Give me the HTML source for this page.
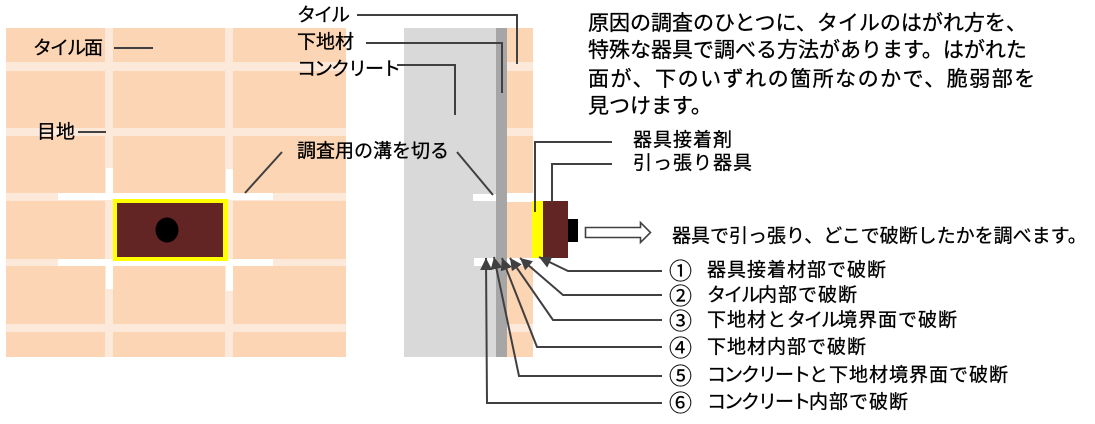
<!DOCTYPE html>
<html><head><meta charset="utf-8">
<style>
html,body{margin:0;padding:0;background:#fff;}
body{width:1095px;height:424px;position:relative;overflow:hidden;font-family:"Liberation Sans","Noto Sans CJK JP",sans-serif;color:#000;}
.t{position:absolute;white-space:nowrap;font-size:19px;line-height:24px;height:24px;-webkit-text-stroke:0.3px #000;}
.p{position:absolute;white-space:nowrap;font-size:21px;line-height:28px;height:28px;left:588px;-webkit-text-stroke:0.3px #000;}
.k{letter-spacing:-2px;}
.w{letter-spacing:1px;}
.n{position:absolute;white-space:nowrap;font-size:23px;line-height:24px;height:24px;left:669px;-webkit-text-stroke:0.2px #000;}
svg{position:absolute;left:0;top:0;}
</style></head><body>
<svg width="1095" height="424" viewBox="0 0 1095 424">
<defs>
<marker id="ah" markerUnits="userSpaceOnUse" markerWidth="13" markerHeight="12" refX="12" refY="6" orient="auto">
<path d="M0,0 L12,6 L0,12 z" fill="#404040"/>
</marker>
</defs>
<!-- left tile face -->
<rect x="6" y="28" width="340" height="329" fill="#fcd5b4"/>
<g fill="#fde9d9">
<rect x="105" y="28" width="8" height="329"/>
<rect x="225" y="28" width="8" height="329"/>
<rect x="6" y="62" width="340" height="9"/>
<rect x="6" y="128" width="340" height="8"/>
<rect x="6" y="193" width="340" height="8"/>
<rect x="6" y="259" width="340" height="7"/>
<rect x="6" y="324" width="340" height="8"/>
</g>
<g fill="#fff">
<rect x="58" y="193" width="215" height="7"/>
<rect x="58" y="259" width="215" height="7"/>
<rect x="106" y="168" width="7" height="32"/>
<rect x="226" y="169" width="7" height="31"/>
<rect x="106" y="259" width="7" height="30"/>
<rect x="226" y="259" width="7" height="32"/>
</g>
<rect x="113" y="199" width="115" height="62" fill="#ffff00"/>
<rect x="117" y="203" width="106" height="54" fill="#632523"/>
<ellipse cx="167" cy="230" rx="11.5" ry="12.5" fill="#000"/>

<!-- cross section -->
<rect x="404" y="28" width="92" height="329" fill="#d9d9d9"/>
<rect x="496" y="28" width="11" height="329" fill="#a6a6a6"/>
<rect x="507" y="28" width="26" height="329" fill="#fcd5b4"/>
<g fill="#fde9d9">
<rect x="507" y="62" width="26" height="9"/>
<rect x="507" y="128" width="26" height="8"/>
<rect x="507" y="324" width="26" height="8"/>
</g>
<g fill="#fff">
<rect x="507" y="193" width="26" height="9"/>
<rect x="507" y="258" width="26" height="8"/>
<rect x="473" y="194" width="23" height="7"/>
<rect x="474" y="258" width="22" height="8"/>
</g>
<rect x="532" y="201" width="11" height="57" fill="#ffff00"/>
<rect x="543" y="201" width="25" height="57" fill="#632523"/>
<rect x="568" y="219" width="10" height="23" fill="#000"/>
<!-- outline arrow -->
<path d="M585.5,227.5 L640.5,227.5 L640.5,222.5 L650.5,232.5 L640.5,242.5 L640.5,237.5 L585.5,237.5 Z" fill="#fff" stroke="#404040" stroke-width="1.6"/>

<!-- leader lines -->
<g fill="none" stroke="#404040" stroke-width="2">
<polyline points="357,15 517,15 517,64"/>
<polyline points="366,43 502,43 502,93"/>
<polyline points="397,65 455,65 455,115"/>
<line x1="457" y1="152" x2="493" y2="195"/>
<line x1="282" y1="152" x2="245" y2="193"/>
<line x1="114" y1="48" x2="153" y2="48"/>
<line x1="78" y1="132" x2="106" y2="132"/>
<polyline points="612,142 535,142 535,212"/>
<polyline points="612,164 552,164 552,202"/>
<polyline points="662,271 568,271 539,257" marker-end="url(#ah)"/>
<polyline points="662,295 563,295 520,258" marker-end="url(#ah)"/>
<polyline points="662,320 553,320 510,258" marker-end="url(#ah)"/>
<polyline points="662,347 537,347 502,258" marker-end="url(#ah)"/>
<polyline points="662,376 519,376 494,257" marker-end="url(#ah)"/>
<polyline points="662,403 487,403 486,258" marker-end="url(#ah)"/>
</g>
</svg>

<div class="t" style="left:33px;top:37px;"><span class="k">タイル</span>面</div>
<div class="t" style="left:37px;top:121px;">目地</div>
<div class="t" style="left:297px;top:4px;"><span class="k">タイル</span></div>
<div class="t" style="left:297px;top:31px;">下地材</div>
<div class="t" style="left:297px;top:58px;"><span class="k">コンクリート</span></div>
<div class="t" style="left:297px;top:140px;">調査用の溝を切る</div>
<div class="t w" style="left:633px;top:129px;">器具接着剤</div>
<div class="t w" style="left:633px;top:152px;">引っ張り器具</div>
<div class="t" style="left:672px;top:225px;">器具で引っ張り、どこで破断したかを調べます。</div>

<div class="n" style="top:259px;">①</div><div class="t w" style="left:707px;top:259px;">器具接着材部で破断</div>
<div class="n" style="top:284px;">②</div><div class="t" style="left:707px;top:284px;"><span class="k">タイル</span><span class="w">内部で破断</span></div>
<div class="n" style="top:309px;">③</div><div class="t" style="left:707px;top:309px;"><span class="w">下地材と</span><span class="k">タイル</span><span class="w">境界面で破断</span></div>
<div class="n" style="top:336px;">④</div><div class="t w" style="left:707px;top:336px;">下地材内部で破断</div>
<div class="n" style="top:364px;">⑤</div><div class="t" style="left:707px;top:364px;"><span class="k">コンクリート</span><span class="w">と下地材境界面で破断</span></div>
<div class="n" style="top:391px;">⑥</div><div class="t" style="left:707px;top:391px;"><span class="k">コンクリート</span><span class="w">内部で破断</span></div>

<div class="p" style="top:10px;">原因の調査のひとつに、タイルのはがれ方を、</div>
<div class="p" style="top:37px;">特殊な器具で調べる方法があります。はがれた</div>
<div class="p" style="top:66px;letter-spacing:1.5px;">面が、下のいずれの箇所なのかで、脆弱部を</div>
<div class="p" style="top:93px;">見つけます。</div>
</body></html>
